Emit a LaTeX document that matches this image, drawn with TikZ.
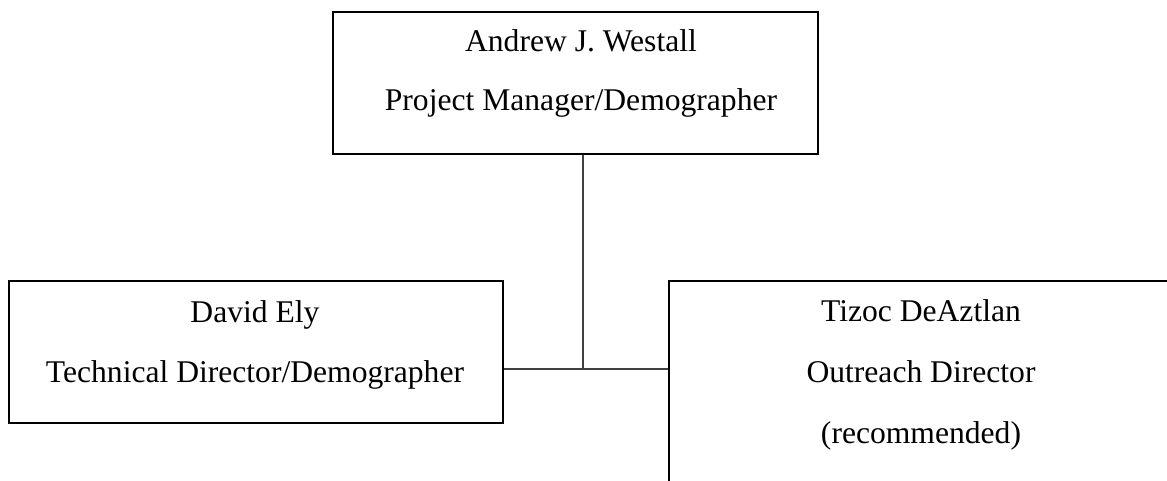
\documentclass[tikz,border=0pt]{standalone}
\usepackage{fontspec}
\setmainfont{Liberation Serif}
\tikzset{
  orgbox/.style={draw=black, line width=2pt, rectangle, inner sep=0pt, fill=none},
  label/.style={anchor=base, inner sep=0pt, font=\fontsize{31.6}{38}\selectfont},
  link/.style={draw=black!75, line width=1.4pt}
}
\begin{document}
\begin{tikzpicture}[x=1pt,y=-1pt]
\fill[white] (0,0) rectangle (1167,481);
\useasboundingbox (0,0) rectangle (1167,481);
\clip (0,0) rectangle (1167,481);
% boxes
\node[orgbox, minimum width=485pt, minimum height=142pt] (top) at (575.5,83) {};
\node[orgbox, minimum width=494pt, minimum height=142pt] (left) at (256,352) {};
\node[orgbox, minimum width=504pt, minimum height=300pt] (right) at (921,431) {};
% texts
\node[label] (t1) at (581,52) {Andrew J. Westall};
\node[label] (t2) at (581,111) {Project Manager/Demographer};
\node[label] (l1) at (255,322) {David Ely};
\node[label] (l2) at (255,382) {Technical Director/Demographer};
\node[label] (r1) at (921,321) {Tizoc DeAztlan};
\node[label] (r2) at (921,382) {Outreach Director};
\node[label] (r3) at (921,443) {(recommended)};
% connectors
\coordinate (j) at (583,369);
\draw[link] (top.south -| j) -- (j);
\draw[link] (left.east |- j) -- (right.west |- j);
\end{tikzpicture}
\end{document}
